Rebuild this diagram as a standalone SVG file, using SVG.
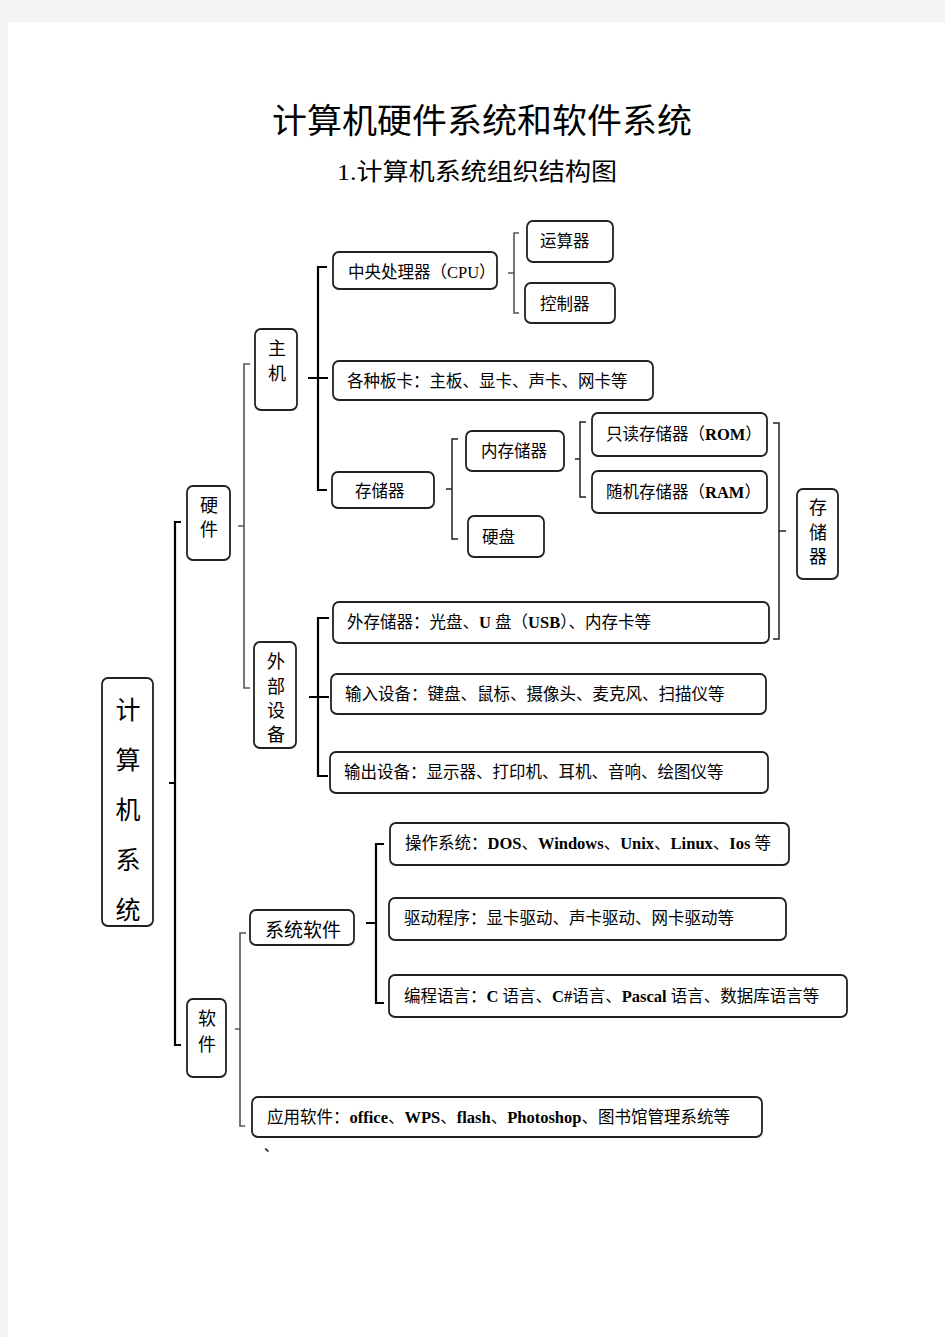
<svg xmlns="http://www.w3.org/2000/svg" width="945" height="1337" viewBox="0 0 945 1337">
<style>
.box{fill:#fff;stroke:#222;stroke-width:1.8}
.t{font-family:"Liberation Serif","Noto Sans CJK SC",serif;font-size:16.5px;fill:#000;dominant-baseline:central}
.b{font-weight:bold}
.v{font-size:18px;text-anchor:middle}
.lk{fill:none;stroke:#000;stroke-width:2.2}
.ld{fill:none;stroke:#222;stroke-width:1.5}
.lg{fill:none;stroke:#555;stroke-width:1.6}
</style>
<rect x="0" y="0" width="945" height="1337" fill="#f3f3f3"/>
<rect x="8" y="22" width="937" height="1315" fill="#fff"/>

<g id="title">
<text class="t" x="482" y="121" text-anchor="middle" style="font-size:34px" textLength="420" lengthAdjust="spacingAndGlyphs">计算机硬件系统和软件系统</text>
<text class="t" x="477" y="172" text-anchor="middle" style="font-size:24px" textLength="280" lengthAdjust="spacingAndGlyphs">1.计算机系统组织结构图</text>
</g>

<g id="connectors">
<path class="lk" d="M181,522 H175 V1045 H181 M169,783 H175"/>
<path class="lg" d="M250,364 H244 V688 H250 M238,526 H244"/>
<path class="lk" d="M327,267 H318 V490 H327 M308,378 H328"/>
<path class="lg" d="M519,233 H514 V313 H519 M508,273 H514"/>
<path class="ld" d="M458,439 H452 V539 H458 M446,489 H452"/>
<path class="ld" d="M586,422 H580 V497 H586 M575,459 H580"/>
<path class="ld" d="M773,423 H779 V639 H773 M779,531 H786"/>
<path class="lk" d="M329,618 H318 V776 H328 M309,697 H329"/>
<path class="lk" d="M384,844 H376 V1003 H384 M366,923 H376"/>
<path class="lg" d="M246,933 H240 V1126 H245 M235,1029 H240"/>
</g>

<g id="n-computer">
<rect class="box" x="102" y="678" width="51" height="248" rx="6"/>
<text class="t v" style="font-size:25px" x="128" y="710">计</text>
<text class="t v" style="font-size:25px" x="128" y="760">算</text>
<text class="t v" style="font-size:25px" x="128" y="810">机</text>
<text class="t v" style="font-size:25px" x="128" y="860">系</text>
<text class="t v" style="font-size:25px" x="128" y="910">统</text>
</g>

<g id="n-hardware">
<rect class="box" x="187" y="486" width="43" height="74" rx="6"/>
<text class="t v" x="209" y="506">硬</text>
<text class="t v" x="209" y="530">件</text>
</g>

<g id="n-software">
<rect class="box" x="187" y="999" width="39" height="78" rx="6"/>
<text class="t v" x="207" y="1019">软</text>
<text class="t v" x="207" y="1045">件</text>
</g>

<g id="n-host">
<rect class="box" x="255" y="329" width="42" height="81" rx="6"/>
<text class="t v" x="277" y="349">主</text>
<text class="t v" x="277" y="374">机</text>
</g>

<g id="n-peripheral">
<rect class="box" x="254" y="642" width="42" height="106" rx="6"/>
<text class="t v" x="276" y="662">外</text>
<text class="t v" x="276" y="687">部</text>
<text class="t v" x="276" y="711">设</text>
<text class="t v" x="276" y="735">备</text>
</g>

<g id="n-cpu">
<rect class="box" x="333" y="252" width="164" height="37" rx="6"/>
<text class="t" x="348" y="272">中央处理器（CPU）</text>
</g>

<g id="n-alu">
<rect class="box" x="527" y="221" width="86" height="41" rx="6"/>
<text class="t" x="540" y="241">运算器</text>
</g>

<g id="n-ctrl">
<rect class="box" x="525" y="283" width="90" height="40" rx="6"/>
<text class="t" x="540" y="304">控制器</text>
</g>

<g id="n-cards">
<rect class="box" x="333" y="361" width="320" height="39" rx="6"/>
<text class="t" x="347" y="381">各种板卡：主板、显卡、声卡、网卡等</text>
</g>

<g id="n-storage">
<rect class="box" x="332" y="472" width="102" height="36" rx="6"/>
<text class="t" x="355" y="491">存储器</text>
</g>

<g id="n-mem">
<rect class="box" x="466" y="431" width="98" height="40" rx="6"/>
<text class="t" x="481" y="451">内存储器</text>
</g>

<g id="n-disk">
<rect class="box" x="468" y="516" width="76" height="41" rx="6"/>
<text class="t" x="482" y="537">硬盘</text>
</g>

<g id="n-rom">
<rect class="box" x="592" y="413" width="175" height="43" rx="6"/>
<text class="t" x="606" y="434">只读存储器（<tspan class="b">ROM</tspan>）</text>
</g>

<g id="n-ram">
<rect class="box" x="592" y="471" width="175" height="42" rx="6"/>
<text class="t" x="606" y="492">随机存储器（<tspan class="b">RAM</tspan>）</text>
</g>

<g id="n-storage-r">
<rect class="box" x="797" y="489" width="41" height="90" rx="6"/>
<text class="t v" x="818" y="508">存</text>
<text class="t v" x="818" y="533">储</text>
<text class="t v" x="818" y="557">器</text>
</g>

<g id="n-ext">
<rect class="box" x="333" y="602" width="436" height="41" rx="6"/>
<text class="t" x="347" y="622">外存储器：光盘、<tspan class="b">U </tspan>盘（<tspan class="b">USB</tspan>）、内存卡等</text>
</g>

<g id="n-input">
<rect class="box" x="331" y="674" width="435" height="40" rx="6"/>
<text class="t" x="345" y="694">输入设备：键盘、鼠标、摄像头、麦克风、扫描仪等</text>
</g>

<g id="n-output">
<rect class="box" x="330" y="752" width="438" height="41" rx="6"/>
<text class="t" x="344" y="772">输出设备：显示器、打印机、耳机、音响、绘图仪等</text>
</g>

<g id="n-syssoft">
<rect class="box" x="250" y="910" width="104" height="35" rx="6"/>
<text class="t" style="font-size:19px" x="265" y="930">系统软件</text>
</g>

<g id="n-os">
<rect class="box" x="390" y="823" width="399" height="42" rx="6"/>
<text class="t" x="405" y="843">操作系统：<tspan class="b">DOS</tspan>、<tspan class="b">Windows</tspan>、<tspan class="b">Unix</tspan>、<tspan class="b">Linux</tspan>、<tspan class="b">Ios </tspan>等</text>
</g>

<g id="n-driver">
<rect class="box" x="389" y="898" width="397" height="42" rx="6"/>
<text class="t" x="404" y="918">驱动程序：显卡驱动、声卡驱动、网卡驱动等</text>
</g>

<g id="n-lang">
<rect class="box" x="389" y="975" width="458" height="42" rx="6"/>
<text class="t" x="404" y="996">编程语言：<tspan class="b">C </tspan>语言、<tspan class="b">C#</tspan>语言、<tspan class="b">Pascal </tspan>语言、数据库语言等</text>
</g>

<g id="n-app">
<rect class="box" x="252" y="1097" width="510" height="40" rx="6"/>
<text class="t" x="267" y="1117">应用软件：<tspan class="b">office</tspan>、<tspan class="b">WPS</tspan>、<tspan class="b">flash</tspan>、<tspan class="b">Photoshop</tspan>、图书馆管理系统等</text>
</g>

<text class="t" x="264" y="1146" style="font-size:14px">、</text>
</svg>
